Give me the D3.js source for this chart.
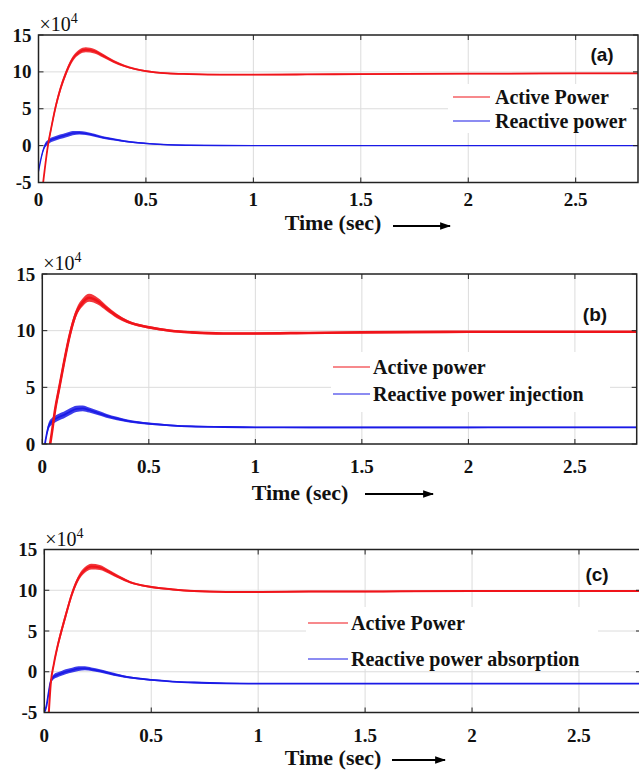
<!DOCTYPE html>
<html>
<head>
<meta charset="utf-8">
<script src="https://cdn.jsdelivr.net/npm/d3@7/dist/d3.min.js"></script>
<style>
  html, body { margin: 0; padding: 0; background: #fff; }
  svg { display: block; }
</style>
</head>
<body>
<svg id="chart" width="639" height="771"></svg>
<script>
// Sample instants (s) shared by every trace
const times = [0, 0.01, 0.02, 0.03, 0.045, 0.06, 0.08, 0.1, 0.13, 0.16, 0.19, 0.22, 0.26, 0.3, 0.35, 0.4, 0.5, 0.6, 0.7, 0.85, 1.0, 1.25, 1.5, 2.0, 2.5, 2.8];

// Power values in units of 10^4
const activeA   = [-14, -9, -5.5, -3.0, 0.2, 2.5, 5.3, 7.5, 10.0, 11.8, 12.7, 13.0, 12.8, 12.2, 11.4, 10.8, 10.1, 9.8, 9.7, 9.62, 9.62, 9.65, 9.7, 9.75, 9.8, 9.8];
const reactiveA = [-3.5, -2.0, -0.8, 0.0, 0.5, 0.8, 1.0, 1.2, 1.45, 1.7, 1.75, 1.65, 1.4, 1.1, 0.85, 0.6, 0.3, 0.12, 0.05, 0.01, 0, 0, 0, 0, 0, 0];

const activeB   = [-6, -4.5, -3.0, -1.0, 1.0, 3.0, 5.0, 7.0, 9.7, 11.6, 12.5, 12.9, 12.6, 12.0, 11.3, 10.8, 10.3, 10.0, 9.85, 9.75, 9.75, 9.8, 9.85, 9.9, 9.9, 9.9];
const reactiveB = [-2.0, -0.3, 0.8, 1.6, 2.0, 2.2, 2.4, 2.55, 2.85, 3.1, 3.15, 3.0, 2.75, 2.5, 2.25, 2.05, 1.8, 1.65, 1.55, 1.5, 1.47, 1.46, 1.46, 1.46, 1.47, 1.47];

const activeC   = [-14, -10, -5.5, -1.5, 1.0, 2.9, 5.0, 6.9, 9.6, 11.5, 12.5, 12.9, 12.8, 12.3, 11.6, 11.0, 10.4, 10.1, 9.9, 9.8, 9.8, 9.85, 9.85, 9.9, 9.9, 9.9];
const reactiveC = [-5.0, -4.2, -2.6, -1.2, -0.6, -0.4, -0.2, 0.0, 0.2, 0.38, 0.42, 0.3, 0.1, -0.15, -0.45, -0.7, -1.0, -1.2, -1.32, -1.42, -1.45, -1.45, -1.45, -1.45, -1.45, -1.45];

// Half-width of the switching ripple band around each trace (10^4)
const rippleActive   = [0, 0, 0.1, 0.2, 0.3, 0.4, 0.45, 0.45, 0.4, 0.35, 0.35, 0.35, 0.3, 0.25, 0.2, 0.15, 0.12, 0.1, 0.1, 0.08, 0.08, 0.08, 0.08, 0.08, 0.08, 0.08];
const rippleReactive = [0, 0.1, 0.2, 0.3, 0.3, 0.3, 0.3, 0.3, 0.3, 0.28, 0.25, 0.22, 0.2, 0.18, 0.15, 0.12, 0.1, 0.08, 0.08, 0.06, 0.06, 0.06, 0.06, 0.06, 0.06, 0.06];

// Axis ticks and labels
const xTicks = [0, 0.5, 1, 1.5, 2, 2.5];
const xTickLabels = ["0", "0.5", "1", "1.5", "2", "2.5"];
const yTicksAC = [-5, 0, 5, 10, 15];
const yTicksB = [0, 5, 10, 15];
const panelTags = ["(a)", "(b)", "(c)"];
const legendActive = ["Active Power", "Active power", "Active Power"];
const legendReactive = ["Reactive power", "Reactive power injection", "Reactive power absorption"];
const xTitle = "Time (sec)";
const xMax = 2.79;

const RED = "#f0141a";
const BLUE = "#1a1ae6";
const serif = "'Liberation Serif', 'Times New Roman', serif";
const sans = "'Liberation Sans', Arial, sans-serif";

const panels = [
  { left: 38.5, right: 638, top: 35, bottom: 182.5, yDomain: [-5, 15], yTicks: yTicksAC,
    active: activeA, reactive: reactiveA, wA: 1.8, wR: 1.4,
    tickY: 23, titleX: 333, titleY: 230, arrow: [393, 450, 226],
    tagX: 602, tagY: 61, legend: { x: 448, y: 84, w: 182, h: 49, lx1: 453, lx2: 490, tx: 495, y1: 97, y2: 121 } },
  { left: 42.3, right: 636.7, top: 274, bottom: 444, yDomain: [0, 15], yTicks: yTicksB,
    active: activeB, reactive: reactiveB, wA: 2.6, wR: 1.8,
    tickY: 29, titleX: 300, titleY: 500, arrow: [365, 433, 494],
    tagX: 595, tagY: 321, legend: { x: 331, y: 352, w: 279, h: 60, lx1: 333, lx2: 370, tx: 373, y1: 367, y2: 394 } },
  { left: 44.3, right: 641, top: 549.5, bottom: 712.5, yDomain: [-5, 15], yTicks: yTicksAC,
    active: activeC, reactive: reactiveC, wA: 2.0, wR: 1.8,
    tickY: 29, titleX: 333, titleY: 765, arrow: [392, 445, 760],
    tagX: 597, tagY: 581, legend: { x: 306, y: 607, w: 292, h: 62, lx1: 308, lx2: 348, tx: 351, y1: 623, y2: 659 } }
];

const svg = d3.select("#chart");
const defs = svg.append("defs");

// Arrowhead for the time-axis pointer
defs.append("marker")
  .attr("id", "arrowhead")
  .attr("viewBox", "0 0 10 10")
  .attr("refX", 9).attr("refY", 5)
  .attr("markerWidth", 5).attr("markerHeight", 5)
  .attr("markerUnits", "strokeWidth")
  .attr("orient", "auto")
  .append("path").attr("d", "M0,1.5 L10,5 L0,8.5 Z").attr("fill", "#000");

panels.forEach((p, i) => {
  const x = d3.scaleLinear().domain([0, xMax]).range([p.left, p.right]);
  const y = d3.scaleLinear().domain(p.yDomain).range([p.bottom, p.top]);
  const g = svg.append("g");

  const clipId = "clip" + i;
  defs.append("clipPath").attr("id", clipId)
    .append("rect").attr("x", p.left).attr("y", p.top)
    .attr("width", p.right - p.left).attr("height", p.bottom - p.top);

  // Grid
  g.append("g").selectAll("line").data(xTicks.filter(t => t > 0)).join("line")
    .attr("x1", d => x(d)).attr("x2", d => x(d))
    .attr("y1", p.top).attr("y2", p.bottom)
    .attr("stroke", "#dcdcdc").attr("stroke-width", 1);
  g.append("g").selectAll("line").data(p.yTicks.filter(t => t > p.yDomain[0] && t < p.yDomain[1])).join("line")
    .attr("x1", p.left).attr("x2", p.right)
    .attr("y1", d => y(d)).attr("y2", d => y(d))
    .attr("stroke", "#dcdcdc").attr("stroke-width", 1);

  // Traces with ripple band
  const plot = g.append("g").attr("clip-path", `url(#${clipId})`);
  const series = [
    { vals: p.reactive, ripple: rippleReactive, color: BLUE, w: p.wR },
    { vals: p.active, ripple: rippleActive, color: RED, w: p.wA }
  ];
  series.forEach(s => {
    const pts = times.map((t, k) => ({ t, v: s.vals[k], r: s.ripple[k] }));
    const area = d3.area().curve(d3.curveMonotoneX)
      .x(d => x(d.t)).y0(d => y(d.v - d.r)).y1(d => y(d.v + d.r));
    const line = d3.line().curve(d3.curveMonotoneX)
      .x(d => x(d.t)).y(d => y(d.v));
    plot.append("path").datum(pts).attr("d", area)
      .attr("fill", s.color).attr("opacity", 0.85);
    plot.append("path").datum(pts).attr("d", line)
      .attr("fill", "none").attr("stroke", s.color).attr("stroke-width", s.w);
  });

  // Legend
  const L = p.legend;
  g.append("rect").attr("x", L.x).attr("y", L.y).attr("width", L.w).attr("height", L.h).attr("fill", "#fff");
  [[legendActive[i], RED, L.y1], [legendReactive[i], BLUE, L.y2]].forEach(([txt, c, yy]) => {
    g.append("line").attr("x1", L.lx1).attr("x2", L.lx2).attr("y1", yy).attr("y2", yy)
      .attr("stroke", c).attr("stroke-width", 1.2);
    g.append("text").attr("x", L.tx).attr("y", yy + 7)
      .attr("font-family", serif).attr("font-weight", "bold").attr("font-size", 20)
      .attr("fill", "#111").text(txt);
  });

  // Frame with inward ticks on all sides
  const frame = g.append("g");
  frame.append("rect").attr("x", p.left).attr("y", p.top)
    .attr("width", p.right - p.left).attr("height", p.bottom - p.top)
    .attr("fill", "none").attr("stroke", "#222").attr("stroke-width", 1.5);
  xTicks.forEach(t => {
    frame.append("line").attr("x1", x(t)).attr("x2", x(t)).attr("y1", p.bottom).attr("y2", p.bottom - 5).attr("stroke", "#222");
    frame.append("line").attr("x1", x(t)).attr("x2", x(t)).attr("y1", p.top).attr("y2", p.top + 5).attr("stroke", "#222");
  });
  p.yTicks.forEach(t => {
    frame.append("line").attr("x1", p.left).attr("x2", p.left + 5).attr("y1", y(t)).attr("y2", y(t)).attr("stroke", "#222");
    frame.append("line").attr("x1", p.right).attr("x2", p.right - 5).attr("y1", y(t)).attr("y2", y(t)).attr("stroke", "#222");
  });

  // Tick labels
  g.append("g").selectAll("text").data(xTicks).join("text")
    .attr("x", d => x(d)).attr("y", p.bottom + p.tickY)
    .attr("text-anchor", "middle")
    .attr("font-family", serif).attr("font-weight", "bold").attr("font-size", 19)
    .attr("fill", "#111").text((d, k) => xTickLabels[k]);
  g.append("g").selectAll("text").data(p.yTicks).join("text")
    .attr("x", p.left - 7).attr("y", d => y(d) + 6.5)
    .attr("text-anchor", "end")
    .attr("font-family", serif).attr("font-weight", "bold").attr("font-size", 19)
    .attr("fill", "#111").text(d => d);

  // Exponent note above the y axis
  const ex = g.append("text").attr("x", p.left + 1).attr("y", p.top - 4)
    .attr("font-family", serif).attr("font-size", 20).attr("fill", "#111");
  ex.append("tspan").text("\u00d710");
  ex.append("tspan").attr("dy", -8).attr("font-size", 14).text("4");

  // Panel tag
  g.append("text").attr("x", p.tagX).attr("y", p.tagY).attr("text-anchor", "middle")
    .attr("font-family", sans).attr("font-weight", "bold").attr("font-size", 19)
    .attr("fill", "#111").text(panelTags[i]);

  // Axis title and arrow
  g.append("text").attr("x", p.titleX).attr("y", p.titleY).attr("text-anchor", "middle")
    .attr("font-family", serif).attr("font-weight", "bold").attr("font-size", 22)
    .attr("fill", "#111").text(xTitle);
  g.append("line").attr("x1", p.arrow[0]).attr("x2", p.arrow[1])
    .attr("y1", p.arrow[2]).attr("y2", p.arrow[2])
    .attr("stroke", "#000").attr("stroke-width", 2.2)
    .attr("marker-end", "url(#arrowhead)");
});
</script>
</body>
</html>
